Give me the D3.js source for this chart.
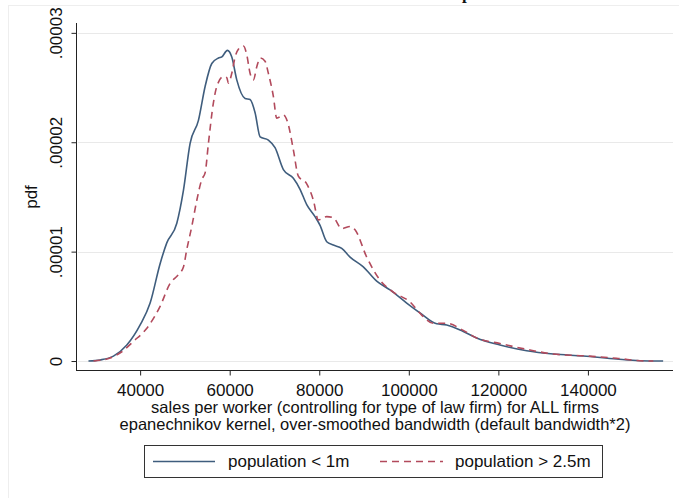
<!DOCTYPE html>
<html>
<head>
<meta charset="utf-8">
<script src="https://cdn.jsdelivr.net/npm/d3@7"></script>
<style>
  body { margin: 0; background: #fff; }
  text { font-family: Arial, "Liberation Sans", sans-serif; fill: #111; }
</style>
</head>
<body>
<div id="chart"></div>
<script>
// sales per worker (x) and density in units of 1e-5 (y)
const smallX = [28460, 31070, 34040, 37030, 40000, 42230, 44460, 45950, 48190, 49670, 51160, 53020, 54510, 56000, 57480, 58240, 59490, 60470, 61580, 63440, 64550, 65670, 66790, 68640, 70130, 71990, 74220, 75710, 77200, 79060, 80180, 81670, 83150, 85020, 86880, 89840, 92830, 95800, 99530, 102500, 106230, 108460, 112170, 115160, 120360, 126320, 132250, 138950, 146400, 151600, 156800];
const smallY = [0, 0.01, 0.045, 0.146, 0.33, 0.53, 0.89, 1.08, 1.26, 1.56, 1.99, 2.20, 2.51, 2.72, 2.77, 2.78, 2.84, 2.78, 2.57, 2.40, 2.39, 2.27, 2.05, 2.02, 1.95, 1.75, 1.67, 1.57, 1.43, 1.32, 1.24, 1.09, 1.06, 1.03, 0.95, 0.86, 0.73, 0.65, 0.53, 0.44, 0.34, 0.33, 0.27, 0.21, 0.146, 0.094, 0.064, 0.046, 0.018, 0.003, 0];

const bigX = [29580, 33300, 35910, 38510, 41500, 44460, 46700, 48550, 49670, 50420, 51530, 52660, 53770, 54510, 55250, 56360, 57120, 58600, 59350, 59710, 60470, 61210, 61940, 63060, 63810, 64550, 65290, 66050, 66790, 67900, 68640, 69750, 70510, 71990, 73100, 74220, 75330, 77200, 78690, 79800, 81670, 83150, 85020, 86880, 87990, 90600, 93570, 96540, 100270, 102880, 105480, 108460, 112170, 115160, 120360, 126320, 132250, 138950, 146400, 153100, 154600];
const bigY = [0, 0.027, 0.085, 0.18, 0.30, 0.50, 0.71, 0.79, 0.86, 1.02, 1.23, 1.47, 1.66, 1.72, 1.99, 2.36, 2.51, 2.60, 2.59, 2.54, 2.63, 2.78, 2.85, 2.88, 2.80, 2.63, 2.57, 2.69, 2.77, 2.74, 2.63, 2.42, 2.22, 2.25, 2.16, 1.93, 1.69, 1.62, 1.47, 1.29, 1.32, 1.31, 1.21, 1.23, 1.20, 0.95, 0.74, 0.63, 0.54, 0.42, 0.345, 0.345, 0.28, 0.21, 0.16, 0.107, 0.064, 0.048, 0.025, 0, 0];

const xTicks = [40000, 60000, 80000, 100000, 120000, 140000];
const yTicks = [0, 1, 2, 3];
const yTickLabels = ["0", ".00001", ".00002", ".00003"];
const seriesNames = ["population < 1m", "population > 2.5m"];

const width = 679, height = 498;
const colors = { small: "#3f5d7d", big: "#b24a5c" };

const svg = d3.select("#chart")
  .append("svg")
    .attr("width", width)
    .attr("height", height);

// faint graph-region frame
svg.append("rect")
  .attr("x", 8.5).attr("y", 5.5)
  .attr("width", 700).attr("height", 520)
  .attr("fill", "none")
  .attr("stroke", "#eeeeee");

// bottom of the cut-off title
svg.append("text")
  .attr("x", 462).attr("y", -1)
  .style("font-family", "'Liberation Serif', serif")
  .style("font-weight", "bold")
  .style("font-size", "17px")
  .text("p");

// scales
const x = d3.scaleLinear().domain([25900, 159000]).range([77, 673]);
const y = d3.scaleLinear().domain([-0.082, 3.09]).range([370, 23]);

// gridlines
svg.append("g")
  .selectAll("line")
  .data(yTicks)
  .join("line")
    .attr("x1", 78).attr("x2", 673)
    .attr("y1", d => Math.round(y(d)) + 0.5)
    .attr("y2", d => Math.round(y(d)) + 0.5)
    .attr("stroke", "#e9e9e9");

// axes
const xAxis = svg.append("g")
  .attr("transform", "translate(0,370.5)")
  .call(d3.axisBottom(x).tickValues(xTicks).tickSize(5).tickPadding(8).tickSizeOuter(0).tickFormat(d3.format("d")));
xAxis.select(".domain").attr("d", "M77,0H673");

const yAxis = svg.append("g")
  .attr("transform", "translate(76.5,0)")
  .call(d3.axisLeft(y).tickValues(yTicks).tickSize(5).tickSizeOuter(0).tickFormat((d, i) => yTickLabels[i]));
yAxis.select(".domain").attr("d", "M0,23V371");

svg.selectAll(".domain, .tick line").attr("stroke", "#222");
xAxis.selectAll("text").style("font-size", "17px").style("font-family", "Arial, 'Liberation Sans', sans-serif").attr("fill", "#111");
yAxis.selectAll("text")
  .style("font-size", "17px")
  .style("font-family", "Arial, 'Liberation Sans', sans-serif")
  .attr("fill", "#111")
  .attr("text-anchor", "middle")
  .attr("x", 0).attr("dy", 0)
  .attr("transform", "translate(-15,0) rotate(-90)");

// axis titles
svg.append("text")
  .attr("transform", "translate(37,197) rotate(-90)")
  .attr("text-anchor", "middle")
  .style("font-size", "17px")
  .text("pdf");

svg.append("text")
  .attr("x", 375).attr("y", 413)
  .attr("text-anchor", "middle")
  .style("font-size", "16.5px")
  .text("sales per worker (controlling for type of law firm) for ALL firms");

svg.append("text")
  .attr("x", 375).attr("y", 430)
  .attr("text-anchor", "middle")
  .style("font-size", "16.5px")
  .text("epanechnikov kernel, over-smoothed bandwidth (default bandwidth*2)");

// density lines
const line = d3.line()
  .x(d => x(d[0]))
  .y(d => y(d[1]))
  .curve(d3.curveMonotoneX);

svg.append("path")
  .datum(d3.zip(smallX, smallY))
  .attr("fill", "none")
  .attr("stroke", colors.small)
  .attr("stroke-width", 1.6)
  .attr("d", line);

svg.append("path")
  .datum(d3.zip(bigX, bigY))
  .attr("fill", "none")
  .attr("stroke", colors.big)
  .attr("stroke-width", 1.6)
  .attr("stroke-dasharray", "7,5")
  .attr("d", line);

// legend
const legend = svg.append("g");
legend.append("rect")
  .attr("x", 144.5).attr("y", 445.5)
  .attr("width", 458).attr("height", 32)
  .attr("fill", "#fff")
  .attr("stroke", "#333");

const legendItems = [
  { name: seriesNames[0], color: colors.small, dash: null, x1: 153, x2: 215, tx: 228 },
  { name: seriesNames[1], color: colors.big, dash: "7,5", x1: 380, x2: 443, tx: 455 }
];
legendItems.forEach(d => {
  legend.append("line")
    .attr("x1", d.x1).attr("x2", d.x2)
    .attr("y1", 461.5).attr("y2", 461.5)
    .attr("stroke", d.color)
    .attr("stroke-width", 1.6)
    .attr("stroke-dasharray", d.dash);
  legend.append("text")
    .attr("x", d.tx).attr("y", 467)
    .style("font-size", "17px")
    .text(d.name);
});
</script>
</body>
</html>
